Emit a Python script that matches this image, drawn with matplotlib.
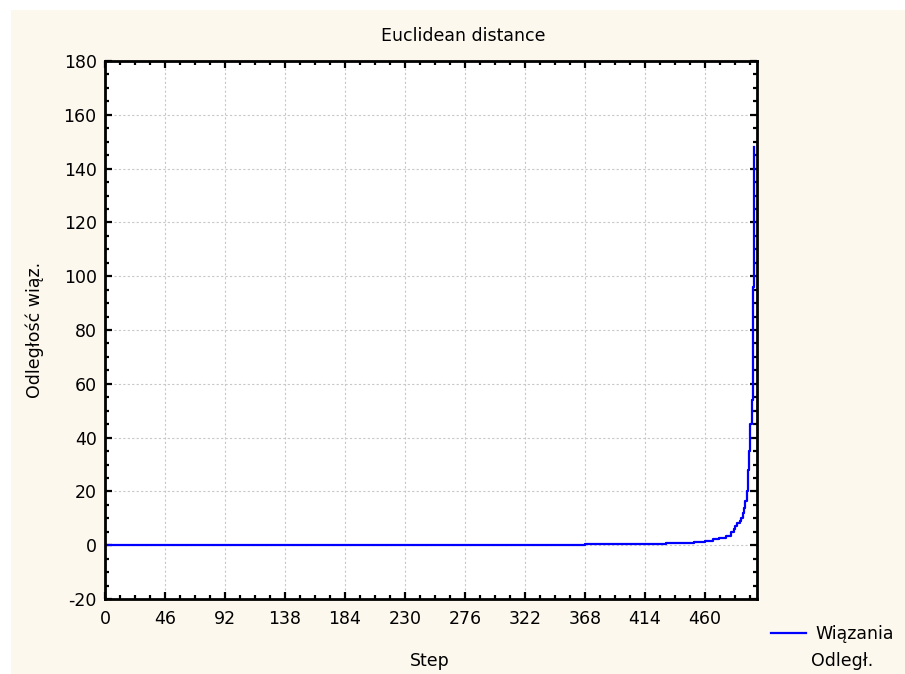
import numpy as np
import matplotlib
matplotlib.use("Agg")
from matplotlib import pyplot as plt
from matplotlib.patches import Rectangle
from matplotlib.ticker import MultipleLocator, AutoMinorLocator

plt.rcParams['font.family'] = ['DejaVu Sans']
plt.rcParams['axes.unicode_minus'] = False

# step breakpoints (linkage distance vs. step)
steps = [0, 187, 328, 368, 400, 414, 430, 441, 452, 460, 466, 471, 476, 478,
         480, 482, 483, 485, 487, 488, 489, 490, 491, 492, 493, 494, 495,
         496, 497, 498]
distance = [0.05, 0.1, 0.2, 0.3, 0.45, 0.6, 0.8, 1.0, 1.3, 1.6, 2.2, 2.8,
            3.3, 3.6, 5.0, 6.0, 7.2, 8.2, 9.0, 10.0, 12.0, 14.0, 16.5, 20.0,
            28.0, 35.0, 45.0, 54.0, 96.0, 148.0]

title = "Euclidean distance"
x_label = "Step"
y_label = "Odległość wiąz."
legend_label = "Wiązania"
legend_label2 = "Odległ."

W, H = 905, 674
fig = plt.figure(figsize=(W / 100, H / 100), dpi=100, facecolor='white')
# cream panel behind the chart
fig.patches.append(Rectangle((11 / W, 0), 1, 1 - 10 / H, transform=fig.transFigure,
                             facecolor='#fdf8ee', edgecolor='none', zorder=-10))

ax = fig.add_axes([105 / W, 75 / H, 652 / W, 538 / H])
ax.set_facecolor('white')

line, = ax.plot(steps, distance, color='#0000ff', linewidth=1.6, drawstyle='steps-post')

ax.set_xlim(0, 500)
ax.set_ylim(-20, 180)
ax.set_xticks([0, 46, 92, 138, 184, 230, 276, 322, 368, 414, 460])
ax.xaxis.set_minor_locator(MultipleLocator(11.5))
ax.yaxis.set_major_locator(MultipleLocator(20))
ax.yaxis.set_minor_locator(AutoMinorLocator(4))

ax.grid(True, which='major', color='#c8c8c8', linestyle=(0, (2, 2)), linewidth=0.8)
ax.set_axisbelow(True)

ax.tick_params(which='both', direction='in', top=True, right=True,
               labeltop=False, labelright=False, width=1.6, colors='black')
ax.tick_params(which='major', length=5, labelsize=12.5)
ax.tick_params(which='minor', length=3)
ax.tick_params(axis='y', pad=6)
ax.tick_params(axis='x', pad=8)
for s in ax.spines.values():
    s.set_linewidth(2)
    s.set_color('black')

fig.text(463 / W, 1 - 36 / H, title, fontsize=12.5, ha='center', va='center')
fig.text(430 / W, 1 - 661 / H, x_label, fontsize=12.5, ha='center', va='center')
fig.text(35 / W, 1 - 330 / H, y_label, fontsize=12.5, ha='center', va='center',
         rotation=90)

# legend below-right of the plot
leg = fig.legend(handles=[line], labels=[legend_label], loc='center left',
                 bbox_to_anchor=(771 / W, 1 - 634 / H), frameon=False,
                 fontsize=12.5, handlelength=2.0, handletextpad=0.55, borderaxespad=0,
                 borderpad=0)
fig.text(811 / W, 1 - 661 / H, legend_label2, fontsize=12.5, va='center', ha='left')

fig.savefig("out.png", dpi=100, facecolor=fig.get_facecolor())
